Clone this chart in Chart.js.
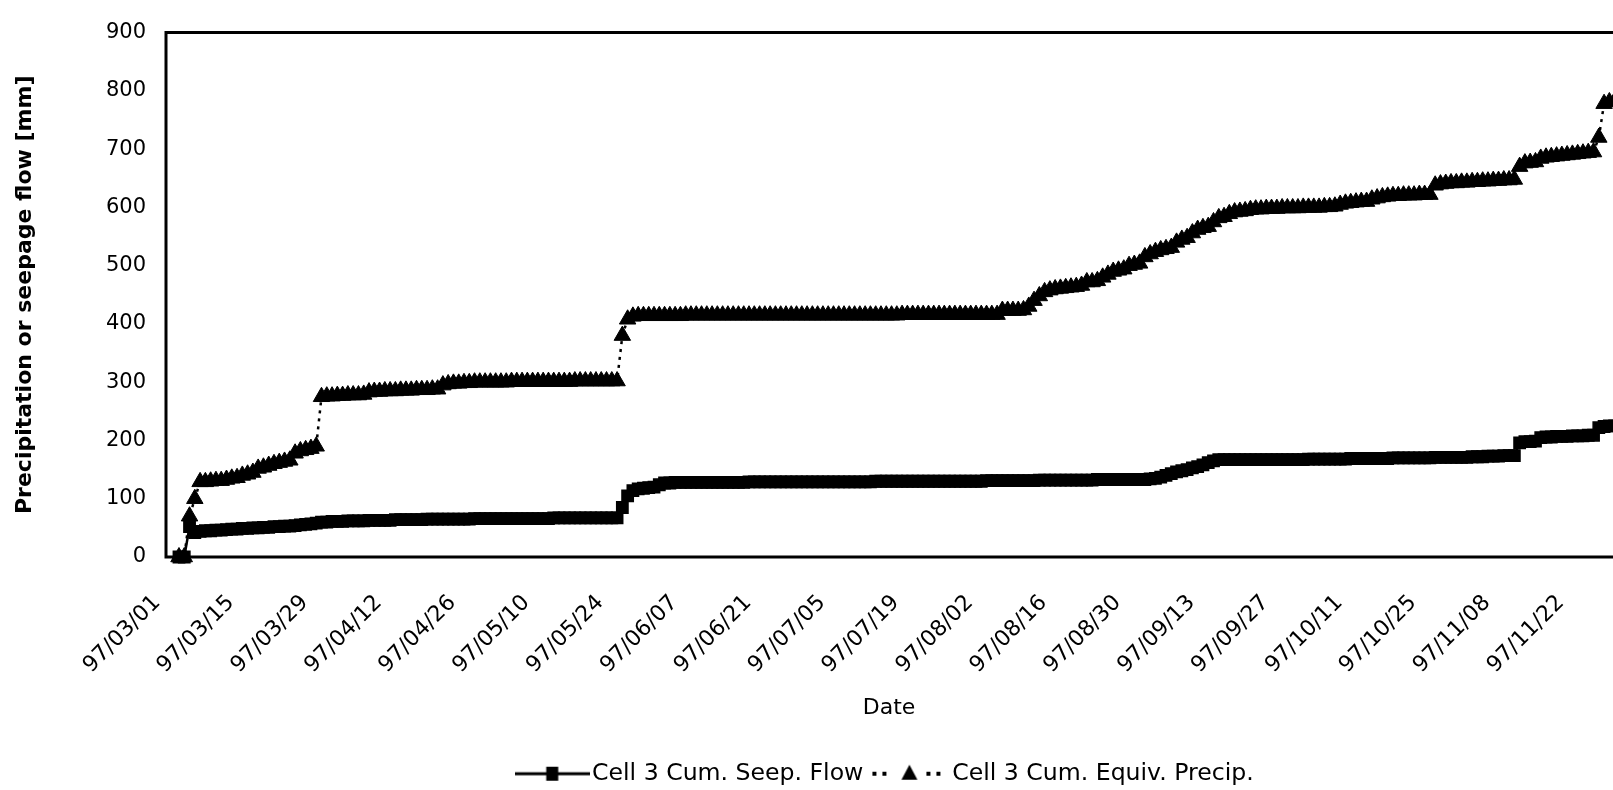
<!DOCTYPE html>
<html>
<head>
<meta charset="utf-8">
<title>Cell 3 cumulative seepage flow and equivalent precipitation</title>
<script src="https://cdn.jsdelivr.net/npm/chart.js@4.4.1/dist/chart.umd.min.js"></script>
<style>
  html, body { margin: 0; padding: 0; background: #fff; }
  #frame { position: relative; width: 1613px; height: 790px; overflow: hidden; background: #fff; }
  canvas { display: block; }
</style>
</head>
<body>
<div id="frame"><canvas id="chart" width="1660" height="800"></canvas></div>
<script>
// Daily cumulative seepage flow [mm], one array per month, starting 97/03/01
const seepMar = [0, 0, 52, 42, 44, 45, 45, 46, 46, 47, 48, 48, 49, 49, 50, 50, 51, 51, 52, 52, 53, 53, 54, 55, 56, 57, 58, 60, 60, 61, 61];
const seepApr = [61, 62, 62, 62, 62, 63, 63, 63, 63, 63, 64, 64, 64, 64, 64, 64, 65, 65, 65, 65, 65, 65, 65, 65, 65, 66, 66, 66, 66, 66];
const seepMay = [66, 66, 66, 66, 66, 66, 66, 66, 66, 66, 67, 67, 67, 67, 67, 67, 67, 67, 67, 67, 67, 67, 67, 85, 105, 114, 117, 118, 119, 120, 124];
const seepJun = [127, 127, 128, 128, 128, 128, 128, 128, 128, 128, 128, 128, 128, 128, 128, 128, 129, 129, 129, 129, 129, 129, 129, 129, 129, 129, 129, 129, 129, 129];
const seepJul = [129, 129, 129, 129, 129, 129, 129, 129, 129, 129, 130, 130, 130, 130, 130, 130, 130, 130, 130, 130, 130, 130, 130, 130, 130, 130, 130, 130, 130, 130, 130];
const seepAug = [131, 131, 131, 131, 131, 131, 131, 131, 131, 131, 132, 132, 132, 132, 132, 132, 132, 132, 132, 132, 132, 133, 133, 133, 133, 133, 133, 133, 133, 133, 133];
const seepSep = [134, 135, 137, 140, 143, 146, 148, 150, 153, 155, 158, 162, 165, 167, 167, 167, 167, 167, 167, 167, 167, 167, 167, 167, 167, 167, 167, 167, 167, 167];
const seepOct = [168, 168, 168, 168, 168, 168, 168, 168, 169, 169, 169, 169, 169, 169, 169, 169, 170, 170, 170, 170, 170, 170, 170, 170, 171, 171, 171, 171, 171, 171, 171];
const seepNov = [172, 172, 172, 173, 173, 173, 174, 174, 174, 196, 198, 198, 199, 205, 206, 206, 207, 207, 207, 208, 208, 208, 209, 209, 222, 224, 225, 225, 226, 226];

// Daily cumulative equivalent precipitation [mm], one array per month, starting 97/03/01
const precipMar = [0, 0, 70, 100, 129, 129, 130, 131, 131, 133, 135, 136, 140, 142, 145, 152, 154, 157, 160, 162, 164, 166, 178, 182, 184, 186, 190, 275, 276, 276, 277];
const precipApr = [277, 278, 278, 278, 279, 283, 284, 284, 285, 285, 285, 286, 286, 286, 287, 287, 287, 288, 288, 295, 297, 298, 298, 299, 299, 300, 300, 300, 300, 300];
const precipMay = [300, 300, 301, 301, 301, 301, 301, 301, 301, 301, 301, 301, 301, 301, 302, 302, 302, 302, 302, 302, 302, 302, 302, 380, 408, 413, 414, 414, 414, 414, 414];
const precipJun = [414, 414, 414, 414, 415, 415, 415, 415, 415, 415, 415, 415, 415, 415, 415, 415, 415, 415, 415, 415, 415, 415, 415, 415, 415, 415, 415, 415, 415, 415];
const precipJul = [415, 415, 415, 415, 415, 415, 415, 415, 415, 415, 415, 415, 415, 415, 415, 416, 416, 416, 416, 416, 416, 416, 416, 416, 416, 416, 416, 416, 416, 416, 416];
const precipAug = [416, 416, 416, 423, 423, 423, 423, 424, 430, 440, 448, 455, 458, 460, 461, 462, 463, 464, 466, 472, 472, 474, 480, 485, 490, 492, 494, 500, 502, 504, 515];
const precipSep = [520, 524, 527, 529, 531, 540, 545, 548, 556, 562, 565, 567, 575, 582, 584, 589, 592, 593, 594, 596, 597, 597, 598, 598, 598, 599, 599, 599, 599, 600];
const precipOct = [600, 600, 600, 601, 601, 602, 605, 607, 608, 609, 610, 610, 614, 616, 618, 619, 620, 620, 621, 621, 621, 622, 622, 622, 638, 640, 641, 642, 642, 643, 643];
const precipNov = [644, 644, 645, 645, 646, 646, 647, 647, 648, 670, 676, 677, 678, 684, 686, 687, 688, 689, 690, 691, 692, 693, 694, 695, 720, 778, 781, 782, 783, 784];

// Date labels along the x axis, one every two weeks
const tickLabels = ['97/03/01', '97/03/15', '97/03/29', '97/04/12', '97/04/26', '97/05/10', '97/05/24',
  '97/06/07', '97/06/21', '97/07/05', '97/07/19', '97/08/02', '97/08/16', '97/08/30', '97/09/13',
  '97/09/27', '97/10/11', '97/10/25', '97/11/08', '97/11/22'];
const labelEvery = 14; // days between date labels

const seepFlow = [].concat(seepMar, seepApr, seepMay, seepJun, seepJul, seepAug, seepSep, seepOct, seepNov);
const equivPrecip = [].concat(precipMar, precipApr, precipMay, precipJun, precipJul, precipAug, precipSep, precipOct, precipNov);

// x = days since 97/03/01
const toPoints = values => values.map((v, day) => ({ x: day, y: v }));

const FONT = 'DejaVu Sans';

// Line-and-marker swatches for the legend
function seepSwatch() {
  const c = document.createElement('canvas');
  c.width = 75; c.height = 22;
  const g = c.getContext('2d');
  g.fillStyle = '#000'; g.strokeStyle = '#000'; g.lineWidth = 3;
  g.beginPath(); g.moveTo(0, 11); g.lineTo(75, 11); g.stroke();
  g.fillRect(31.5, 4, 12, 14);
  return c;
}
function precipSwatch() {
  const c = document.createElement('canvas');
  c.width = 86; c.height = 22;
  const g = c.getContext('2d');
  g.fillStyle = '#000';
  [5, 15, 59, 69].forEach(x => g.fillRect(x - 2, 9, 4, 4));
  g.beginPath();
  g.moveTo(40, 2); g.lineTo(48, 17); g.lineTo(32, 17);
  g.closePath(); g.fill();
  return c;
}
const legendSwatches = [seepSwatch(), precipSwatch()];

// Plot frame: left, top and bottom edges (the right edge lies past the visible page)
const plotFrame = {
  id: 'plotFrame',
  beforeDatasetsDraw(chart) {
    const { ctx, chartArea: a } = chart;
    ctx.save();
    ctx.strokeStyle = '#000';
    ctx.lineWidth = 3;
    ctx.beginPath();
    ctx.moveTo(chart.width, a.top);
    ctx.lineTo(a.left, a.top);
    ctx.lineTo(a.left, a.bottom);
    ctx.lineTo(chart.width, a.bottom);
    ctx.stroke();
    ctx.restore();
  }
};

new Chart(document.getElementById('chart'), {
  type: 'line',
  data: {
    datasets: [
      {
        label: 'Cell 3 Cum. Seep. Flow',
        data: toPoints(seepFlow),
        borderColor: '#000',
        backgroundColor: '#000',
        borderWidth: 2.5,
        pointStyle: 'rect',
        pointRadius: 8,
        pointBorderWidth: 1.5,
        pointBackgroundColor: '#000',
        pointBorderColor: '#000',
        clip: false
      },
      {
        label: 'Cell 3 Cum. Equiv. Precip.',
        data: toPoints(equivPrecip),
        borderColor: '#000',
        backgroundColor: '#000',
        borderWidth: 2.5,
        borderDash: [3, 5],
        pointStyle: 'triangle',
        pointRadius: 9.5,
        pointBorderWidth: 1,
        pointBackgroundColor: '#000',
        pointBorderColor: '#000',
        clip: false
      }
    ]
  },
  options: {
    responsive: false,
    animation: false,
    devicePixelRatio: 1,
    layout: { padding: { left: 0, top: 27, right: 48, bottom: 4.5 } },
    plugins: {
      tooltip: { enabled: false },
      legend: {
        position: 'bottom',
        fullSize: false,
        labels: {
          usePointStyle: true,
          pointStyleWidth: 56,
          padding: 21,
          color: '#000',
          font: { family: FONT, size: 23.6 },
          generateLabels: chart => chart.data.datasets.map((ds, i) => ({
            text: ds.label,
            pointStyle: legendSwatches[i],
            fillStyle: '#000',
            strokeStyle: '#000',
            lineWidth: 0,
            hidden: false,
            datasetIndex: i
          }))
        }
      }
    },
    scales: {
      x: {
        type: 'linear',
        min: -2.46,
        max: 271.5,
        afterBuildTicks: scale => {
          scale.ticks = tickLabels.map((_, k) => ({ value: k * labelEvery }));
        },
        afterFit: scale => { scale.height = 183.9; },
        grid: { display: false, drawTicks: false },
        border: { display: false },
        ticks: {
          autoSkip: false,
          minRotation: 45,
          maxRotation: 45,
          labelOffset: -22,
          padding: 33,
          color: '#000',
          font: { family: FONT, size: 22 },
          callback: (value, index) => tickLabels[index]
        },
        title: {
          display: true,
          text: 'Date',
          color: '#000',
          font: { family: FONT, size: 22 },
          padding: { top: 0, bottom: 19 }
        }
      },
      y: {
        min: 0,
        max: 900,
        afterFit: scale => { scale.width = 166; },
        grid: { display: false, drawTicks: false },
        border: { display: false },
        ticks: {
          stepSize: 100,
          padding: 20,
          color: '#000',
          font: { family: FONT, size: 21 }
        },
        title: {
          display: true,
          text: 'Precipitation or seepage flow [mm]',
          color: '#000',
          font: { family: FONT, size: 22, weight: 'bold' },
          padding: { top: 12, bottom: 0 }
        }
      }
    }
  },
  plugins: [plotFrame]
});
</script>
</body>
</html>
